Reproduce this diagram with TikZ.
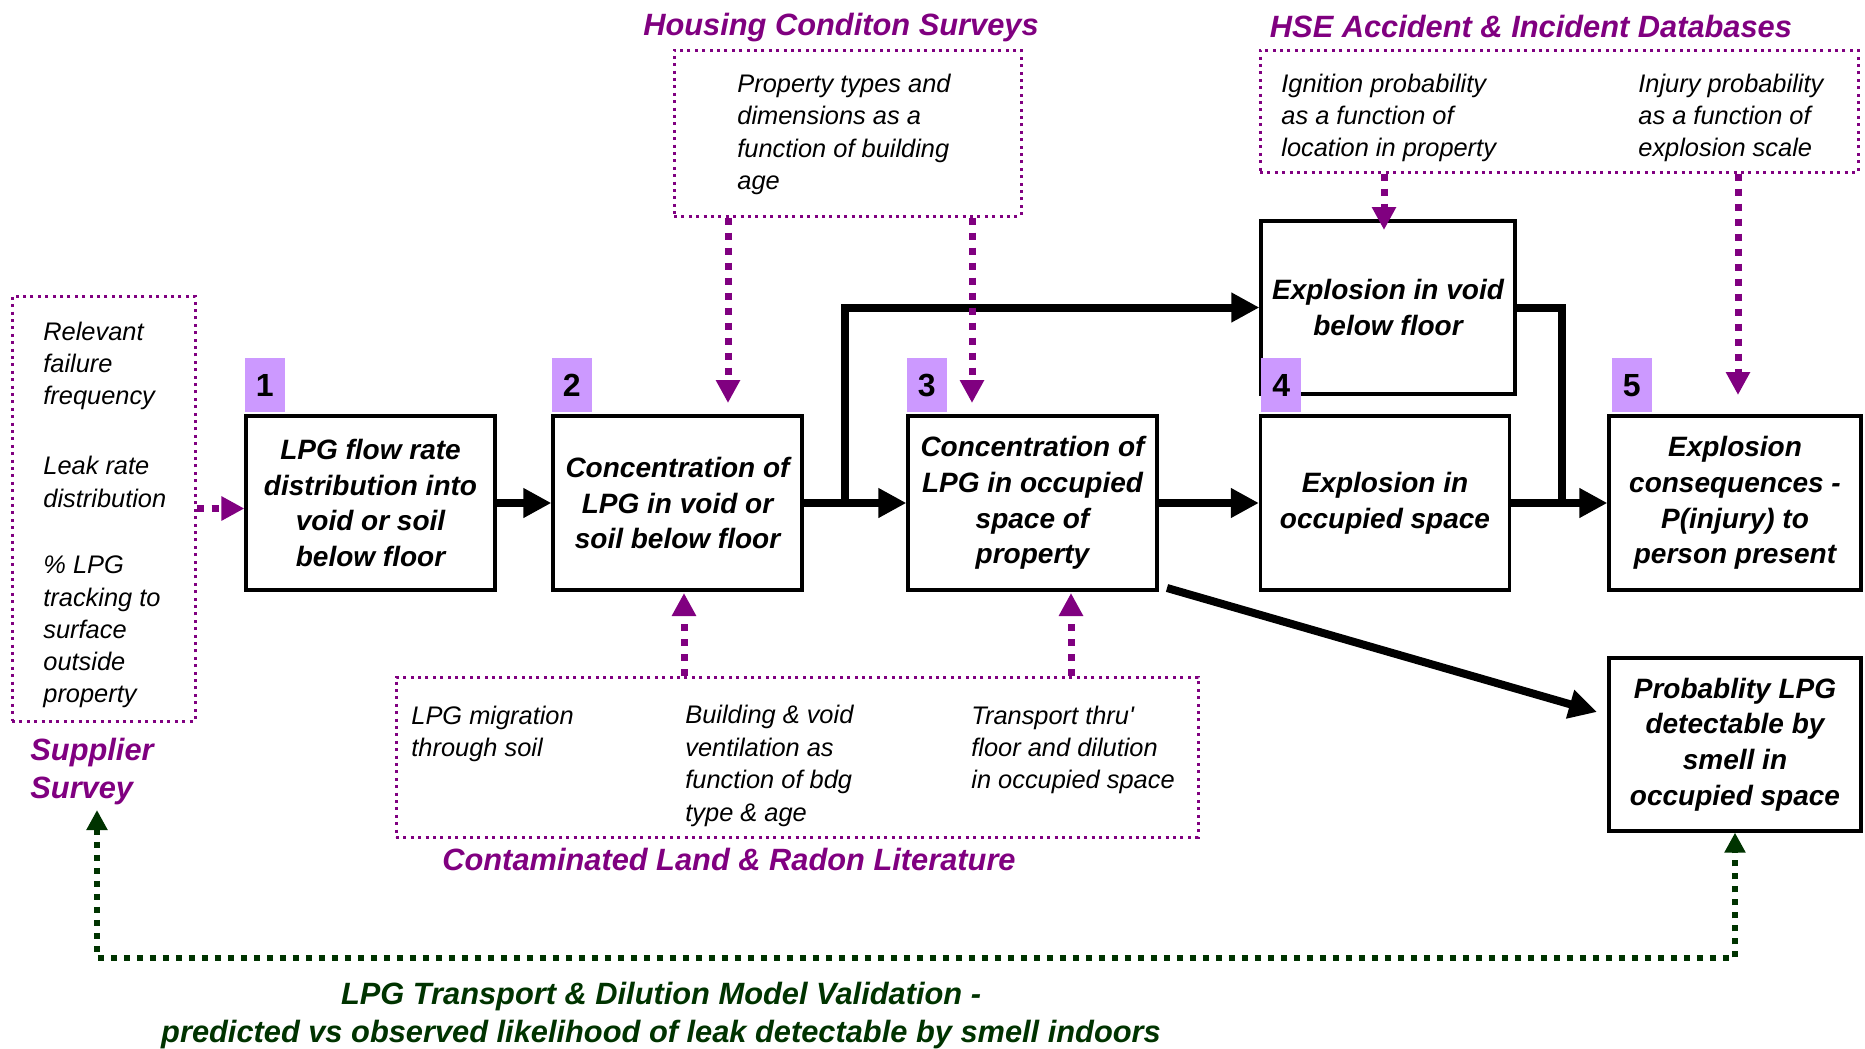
\documentclass[tikz,border=0pt]{standalone}
\usepackage{fontspec}
\setmainfont{Liberation Sans}
\usetikzlibrary{arrows.meta}
\definecolor{purp}{RGB}{128,0,128}
\definecolor{lilac}{RGB}{204,153,255}
\definecolor{dkgreen}{RGB}{0,51,0}

\begin{document}
\begin{tikzpicture}[x=0.5pt,y=-0.5pt,
  stage/.style={draw, line width=1.6pt, fill=white, align=center, inner sep=0pt,
    minimum width=124.5pt, minimum height=87pt,
    font=\fontsize{14}{17.9}\selectfont\bfseries\itshape},
  badge/.style={fill=lilac, inner sep=0pt, minimum width=20pt, minimum height=27pt,
    anchor=south west, yshift=0.8pt, font=\fontsize{16}{16}\selectfont\bfseries},
  source/.style={draw=purp, line width=1.5pt, dash pattern=on 1.5pt off 2.2pt, inner sep=0pt},
  note/.style={align=left, anchor=west, inner sep=0pt,
    font=\fontsize{12.7}{16.2}\selectfont\itshape},
  head/.style={inner sep=0pt, text=purp, font=\fontsize{15.4}{19}\selectfont\bfseries\itshape},
  flow/.style={line width=4pt, -{Triangle[length=14pt,width=14pt]}},
  heavy/.style={line width=4pt},
  feed/.style={draw=purp, line width=3.5pt, dash pattern=on 3.5pt off 4pt,
    -{Triangle[length=11.5pt,width=11.5pt,fill=purp]}},
  check/.style={draw=dkgreen, line width=3pt, dash pattern=on 3pt off 3.5pt,
    {Triangle[length=10pt,width=10pt,fill=dkgreen]}-{Triangle[length=10pt,width=10pt,fill=dkgreen]}}
]
\useasboundingbox (0,0) rectangle (1865,1049);

% --- data sources (dotted frames) ---
\node[source, minimum width=91.5pt, minimum height=212.5pt] (sup) at (103.5,508.5) {};
\node[source, minimum width=173.5pt, minimum height=83pt] (hous) at (847.5,133) {};
\node[source, minimum width=299pt, minimum height=61pt] (hse) at (1559,111) {};
\node[source, minimum width=401pt, minimum height=80pt] (cont) at (797,757) {};

\node[note, font=\fontsize{12.7}{16.1}\selectfont\itshape] (supA) at (43,366) {Relevant\\failure\\frequency};
\node[note, font=\fontsize{12.7}{16.1}\selectfont\itshape] (supB) at (43,482) {Leak rate\\distribution};
\node[note, font=\fontsize{12.7}{16.1}\selectfont\itshape] (supC) at (43,632) {\% LPG\\tracking to\\surface\\outside\\property};

\node[note] (housA) at (737,134.5) {Property types and\\dimensions as a\\function of building\\age};

\node[note] (hseA) at (1281,118) {Ignition probability\\as a function of\\location in property};
\node[note] (hseB) at (1638,118) {Injury probability\\as a function of\\explosion scale};

\node[note] (contA) at (411,734) {LPG migration\\through soil};
\node[note] (contB) at (685,766) {Building \& void\\ventilation as\\function of bdg\\type \& age};
\node[note] (contC) at (971,750) {Transport thru\textquotesingle\\floor and dilution\\in occupied space};

% --- source titles ---
\node[head] (tHous) at (841,27.5) {Housing Conditon Surveys};
\node[head] (tHse) at (1531,26.5) {HSE Accident \& Incident Databases};
\node[head, align=left, anchor=west] (tSup) at (30,771.5) {Supplier\\Survey};
\node[head] (tCont) at (729,859.5) {Contaminated Land \& Radon Literature};

% --- model stages ---
\node[stage] (box1) at (370.5,503) {LPG flow rate\\distribution into\\void or soil\\below floor};
\node[stage] (box2) at (677.5,503) {Concentration of\\LPG in void or\\soil below floor};
\node[stage] (box3) at (1032.5,503) {Concentration of\\LPG in occupied\\space of\\property};
\node[stage, minimum width=127pt, minimum height=86.5pt] (void) at (1388,307.5) {Explosion in void\\below floor};
\node[stage] (box4) at (1385,503) {Explosion in\\occupied space};
\node[stage, minimum width=126pt] (box5) at (1735,503) {Explosion\\consequences -\\P(injury) to\\person present};
\node[stage, minimum width=126pt, minimum height=86.5pt] (prob) at (1735,744.5) {Probablity LPG\\detectable by\\smell in\\occupied space};

% --- stage numbers ---
\node[badge] (n1) at (box1.north west) {1};
\node[badge] (n2) at (box2.north west) {2};
\node[badge] (n3) at (box3.north west) {3};
\node[badge, xshift=1pt] (n4) at (box4.north west) {4};
\node[badge, xshift=2pt] (n5) at (box5.north west) {5};

% --- main flow ---
\draw[flow] (box1.east) -- (box2.west);
\draw[flow] (box2.east) -- (box3.west);
\coordinate (split) at (845,505);
\draw[flow] (split) |- (void.west);
\draw[flow] (box3.east) -- (box4.west);
\draw[flow] (box4.east) -- (box5.west);
\coordinate (join) at (1562,505);
\draw[heavy] (void.east) -| (join);
\coordinate (d0) at (1167,588);
\coordinate (d1) at (1597,712);
\draw[flow] (d0) -- (d1);

% --- data feeds ---
\draw[feed] (sup.east) -- (sup.east -| box1.west);
\coordinate (h1) at (728,403);
\coordinate (h2) at (972,403);
\draw[feed] (h1 |- hous.south) -- (h1);
\draw[feed] (h2 |- hous.south) -- (h2);
\coordinate (s1) at (1384,230);
\coordinate (s2) at (1738,395);
\draw[feed] (s1 |- hse.south) -- (s1);
\draw[feed] (s2 |- hse.south) -- (s2);
\coordinate (c1) at (684,593);
\coordinate (c2) at (1071,593);
\draw[feed] (c1 |- cont.north) -- (c1);
\draw[feed] (c2 |- cont.north) -- (c2);

% --- validation loop ---
\coordinate (g1) at (97,810);
\coordinate (gb) at (97,958);
\draw[check] (g1) -- (gb) -| (prob.south);
\node[align=center, inner sep=0pt, text=dkgreen,
  font=\fontsize{15.4}{19}\selectfont\bfseries\itshape] (valid) at (661,1016)
  {LPG Transport \& Dilution Model Validation -\\predicted vs observed likelihood of leak detectable by smell indoors};
\end{tikzpicture}
\end{document}
